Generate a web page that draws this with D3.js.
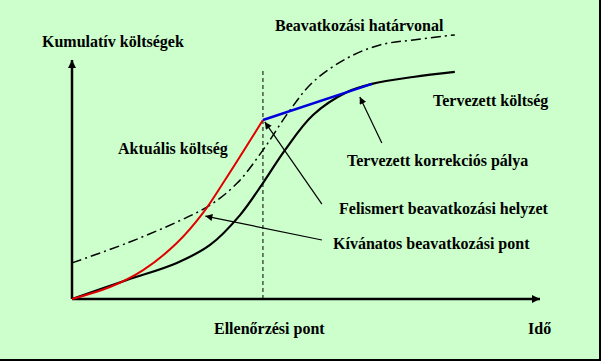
<!DOCTYPE html>
<html><head><meta charset="utf-8">
<script src="https://cdn.jsdelivr.net/npm/d3@7"></script>
<style>html,body{margin:0;padding:0;background:#fff;}svg{display:block;}</style>
</head><body>
<svg id="c" width="601" height="361"></svg>
<script>
// Planned cost (Tervezett költség)
const plannedTime = [0, 11.75, 22.4, 29.5, 35.9, 40.8, 45.5, 51.5, 58.8, 64.1, 72.9, 81.8];
const plannedCost = [0, 7.95, 15.1, 22.6, 35.1, 48.5, 62.3, 77, 86.6, 90, 92.9, 95];
// Actual cost (Aktuális költség)
const actualTime = [0, 8.1, 15.2, 22.4, 28, 32.7, 40.8];
const actualCost = [0, 5, 12.1, 23.4, 36, 49.8, 74.9];
// Planned correction path (Tervezett korrekciós pálya)
const corrTime = [40.8, 64.1];
const corrCost = [74.9, 90];
// Intervention threshold (Beavatkozási határvonal)
const limitTime = [0, 11.75, 22.4, 29.5, 35.3, 40.8, 46.6, 51.5, 58.8, 65.8, 72.9, 81.8];
const limitCost = [15.1, 23.4, 32.2, 39.3, 48.5, 62.3, 79.1, 90.8, 100.8, 106.3, 108.4, 110.5];
// Checkpoint time
const checkTime = 40.8;

const svg = d3.select("#c");
const W = 601, H = 361;
svg.append("rect").attr("x",0).attr("y",0).attr("width",W).attr("height",H).attr("fill","#ccffcc");
// border shadow on right and bottom
svg.append("rect").attr("x",599).attr("y",0).attr("width",2).attr("height",H).attr("fill","#000");
svg.append("rect").attr("x",0).attr("y",359).attr("width",W).attr("height",2).attr("fill","#000");

const x = d3.scaleLinear().domain([0,100]).range([72,540]);
const y = d3.scaleLinear().domain([0,100]).range([299,60]);

const defs = svg.append("defs");
function marker(id, w, h){
  defs.append("marker").attr("id",id).attr("viewBox","0 0 10 10").attr("refX",10).attr("refY",5)
    .attr("markerWidth",w).attr("markerHeight",h).attr("markerUnits","userSpaceOnUse").attr("orient","auto")
    .append("path").attr("d","M0,0L10,5L0,10Z").attr("fill","#000");
}
marker("ax",10,8);
marker("ar",10,7);

// axes
const xMax = x.domain()[1], yMax = y.domain()[1];
svg.append("line").attr("x1",x(0)).attr("y1",y(0)).attr("x2",x(xMax)).attr("y2",y(0))
  .attr("stroke","#000").attr("stroke-width",2.5).attr("marker-end","url(#ax)");
svg.append("line").attr("x1",x(0)).attr("y1",y(0)).attr("x2",x(0)).attr("y2",y(yMax))
  .attr("stroke","#000").attr("stroke-width",2.5).attr("marker-end","url(#ax)");

// checkpoint vertical dashed line
svg.append("line").attr("x1",x(checkTime)).attr("x2",x(checkTime)).attr("y1",y(0)).attr("y2",y(95.8))
  .attr("stroke","#000").attr("stroke-width",1).attr("stroke-dasharray","4,3");

const line = d3.line().x(d=>x(d[0])).y(d=>y(d[1])).curve(d3.curveCatmullRom.alpha(0.5));
const zip = (a,b)=>a.map((v,i)=>[v,b[i]]);

svg.append("path").attr("d",line(zip(limitTime,limitCost))).attr("fill","none")
  .attr("stroke","#000").attr("stroke-width",1.5).attr("stroke-dasharray","10,4,2,4");
svg.append("path").attr("d",line(zip(plannedTime,plannedCost))).attr("fill","none")
  .attr("stroke","#000").attr("stroke-width",2.2);
svg.append("path").attr("d",line(zip(actualTime,actualCost))).attr("fill","none")
  .attr("stroke","#e00000").attr("stroke-width",2);
svg.append("path").attr("d",d3.line().x(d=>x(d[0])).y(d=>y(d[1]))(zip(corrTime,corrCost))).attr("fill","none")
  .attr("stroke","#0000dd").attr("stroke-width",2.5);

// annotation arrows: [fromTime, fromCost, toTime, toCost]
const arrows = [
  [66.2, 65.3, 61.5, 84.5],   // korrekciós pálya
  [53.4, 39.7, 41.2, 74.1],   // felismert helyzet
  [53.4, 24.7, 28.5, 34.7]    // kívánatos pont
];
arrows.forEach(a=>{
  svg.append("line").attr("x1",x(a[0])).attr("y1",y(a[1])).attr("x2",x(a[2])).attr("y2",y(a[3]))
    .attr("stroke","#000").attr("stroke-width",1.2).attr("marker-end","url(#ar)");
});

const labels = [
  ["Kumulatív költségek", 42, 47],
  ["Beavatkozási határvonal", 275, 31],
  ["Aktuális költség", 118, 154],
  ["Tervezett költség", 433, 106],
  ["Tervezett korrekciós pálya", 347, 166],
  ["Felismert beavatkozási helyzet", 339, 214],
  ["Kívánatos beavatkozási pont", 333, 249],
  ["Ellenőrzési pont", 214, 334],
  ["Idő", 528, 334]
];
svg.selectAll("text.l").data(labels).enter().append("text").attr("class","l")
  .attr("x",d=>d[1]).attr("y",d=>d[2]).text(d=>d[0])
  .attr("font-family","'Liberation Serif','Times New Roman',serif").attr("font-weight","bold")
  .attr("font-size","16px").attr("fill","#000");
</script>
</body></html>
